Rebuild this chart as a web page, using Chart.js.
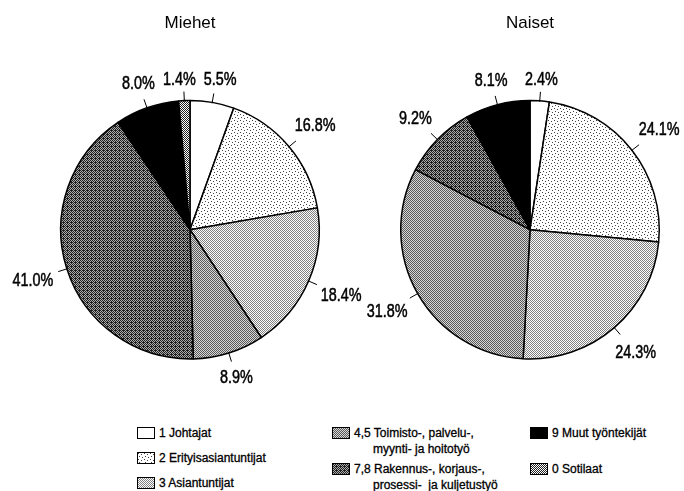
<!DOCTYPE html>
<html>
<head>
<meta charset="utf-8">
<script src="https://cdn.jsdelivr.net/npm/chart.js@4"></script>
<style>
  body { margin: 0; background: #fff; width: 684px; height: 491px; position: relative; overflow: hidden;
         font-family: "Liberation Sans", Arial, sans-serif; }
  canvas { position: absolute; top: 0; }
  #menChart { left: 0; }
  #womenChart { left: 320px; }
  .item { position: absolute; font-size: 12px; line-height: 16px; color: #000; white-space: pre;
          -webkit-text-stroke: 0.3px #000; }
  .item .sw { position: absolute; left: 0; top: 2px; width: 16px; height: 10px; border: 1px solid #000; }
  .item span { display: block; padding-left: 22px; }
  .item span.cont { padding-left: 41px; }
</style>
</head>
<body>
<canvas id="menChart" width="380" height="400"></canvas>
<canvas id="womenChart" width="364" height="400"></canvas>
<div id="legend"></div>
<script>
// data
const legendLines = [
    ['1 Johtajat'],
    ['2 Erityisasiantuntijat'],
    ['3 Asiantuntijat'],
    ['4,5 Toimisto-, palvelu-,', 'myynti- ja hoitotyö'],
    ['7,8 Rakennus-, korjaus-,', 'prosessi-  ja kuljetustyö'],
    ['9 Muut työntekijät'],
    ['0 Sotilaat']
];
const categories = legendLines.map(l => l.join(' '));
const menValues = [5.5, 16.8, 18.4, 8.9, 41.0, 8.0, 1.4];
const womenValues = [2.4, 24.1, 24.3, 31.8, 9.2, 8.1, 0];
const chartTitles = ['Miehet', 'Naiset'];

// stipple tiles imitating the printed raster
function makeTile(rows, light, dark) {
    const c = document.createElement('canvas');
    c.width = rows[0].length;
    c.height = rows.length;
    const g = c.getContext('2d');
    g.fillStyle = light;
    g.fillRect(0, 0, c.width, c.height);
    g.fillStyle = dark;
    rows.forEach((r, y) => {
        for (let x = 0; x < r.length; x++) if (r[x] === '#') g.fillRect(x, y, 1, 1);
    });
    return c;
}

const tiles = [
    makeTile(['.'], '#fff', '#fff'),
    makeTile(['#.....', '...#..', '......', '.#....', '....#.', '......'], '#fff', '#444'),
    makeTile(['#.', '.#'], '#fff', '#808080'),
    makeTile(['#.', '.#'], '#d8d8d8', '#585858'),
    makeTile(['#.#.', '.#.#', '#.##', '.#.#'], '#ababab', '#202020'),
    makeTile(['#'], '#000', '#000'),
    makeTile(['#.', '.#'], '#fff', '#222')
];
const patCtx = document.createElement('canvas').getContext('2d');
const fills = tiles.map(t => patCtx.createPattern(t, 'repeat'));

// narrow face is not installed, so squeeze the regular one
const labelFont = '18px "Liberation Sans", Arial, sans-serif';
const squeeze = 0.8;

const pctLabels = {
    id: 'pctLabels',
    afterDatasetsDraw(chart) {
        const ctx = chart.ctx;
        const values = chart.data.datasets[0].data;
        ctx.save();
        ctx.font = labelFont;
        ctx.fillStyle = '#000';
        ctx.strokeStyle = '#000';
        ctx.textAlign = 'center';
        ctx.textBaseline = 'middle';
        const items = [];
        chart.getDatasetMeta(0).data.forEach((arc, i) => {
            if (!values[i]) return;
            const p = arc.getProps(['x', 'y', 'startAngle', 'endAngle', 'outerRadius'], true);
            const mid = (p.startAngle + p.endAngle) / 2;
            const ux = Math.cos(mid), uy = Math.sin(mid);
            const r = p.outerRadius;
            const text = values[i].toFixed(1) + '%';
            const halfW = ctx.measureText(text).width * squeeze / 2;
            const dist = r + 14 + halfW * Math.abs(ux) + 7 * Math.abs(uy);
            items.push({ p, ux, uy, r, text, halfW, x: p.x + ux * dist, y: p.y + uy * dist + 1 });
        });
        // push apart neighbours that collide (small slices at the top)
        for (let k = 0; k < items.length; k++) {
            const a = items[k], b = items[(k + 1) % items.length];
            if (a === b || Math.abs(a.y - b.y) > 14) continue;
            const left = a.x < b.x ? a : b, right = a.x < b.x ? b : a;
            const overlap = left.halfW + right.halfW + 8 - (right.x - left.x);
            if (overlap > 0) {
                left.x -= overlap / 2;
                right.x += overlap / 2;
            }
        }
        items.forEach(it => {
            const { p, ux, uy, r } = it;
            ctx.lineWidth = 1;
            ctx.beginPath();
            ctx.moveTo(p.x + ux * (r - 1), p.y + uy * (r - 1));
            ctx.lineTo(p.x + ux * (r + 9), p.y + uy * (r + 9));
            ctx.stroke();
            ctx.save();
            ctx.translate(it.x, it.y);
            ctx.scale(squeeze, 1);
            ctx.lineWidth = 0.5;
            ctx.fillText(it.text, 0, 0);
            ctx.strokeText(it.text, 0, 0);
            ctx.restore();
        });
        ctx.restore();
    }
};

function makePie(id, title, values, padLeft, padRight) {
    return new Chart(document.getElementById(id), {
        type: 'pie',
        data: {
            labels: categories,
            datasets: [{
                data: values,
                backgroundColor: fills,
                borderColor: '#000',
                borderWidth: 1.5
            }]
        },
        options: {
            responsive: false,
            animation: false,
            devicePixelRatio: 1,
            layout: { padding: { left: padLeft, right: padRight, top: 0, bottom: 40 } },
            plugins: {
                legend: { display: false },
                tooltip: { enabled: false },
                title: {
                    display: true,
                    text: title,
                    color: '#000',
                    font: { size: 17, weight: 'normal', family: '"Liberation Sans", Arial, sans-serif' },
                    padding: { top: 13, bottom: 66 }
                }
            }
        },
        plugins: [pctLabels]
    });
}

makePie('menChart', chartTitles[0], menValues, 60, 60);
makePie('womenChart', chartTitles[1], womenValues, 80, 24);

// legend, three columns
const legendPos = [
    [137, 433], [137, 458], [137, 483],
    [332, 433], [332, 469],
    [530, 433], [530, 469]
];
const legend = document.getElementById('legend');
legendLines.forEach((lines, i) => {
    const item = document.createElement('div');
    item.className = 'item';
    item.style.left = legendPos[i][0] + 'px';
    item.style.top = (legendPos[i][1] - 8) + 'px';
    const sw = document.createElement('div');
    sw.className = 'sw';
    sw.style.backgroundImage = 'url(' + tiles[i].toDataURL() + ')';
    item.appendChild(sw);
    lines.forEach((t, j) => {
        const s = document.createElement('span');
        if (j > 0) s.className = 'cont';
        s.textContent = t;
        item.appendChild(s);
    });
    legend.appendChild(item);
});
</script>
</body>
</html>
